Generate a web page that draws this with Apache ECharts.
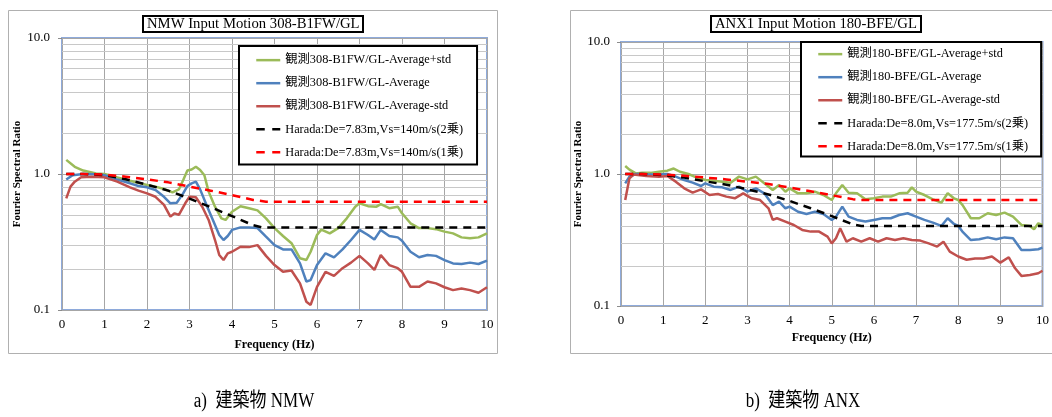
<!DOCTYPE html>
<html><head><meta charset="utf-8">
<script src="https://cdn.jsdelivr.net/npm/echarts@6/dist/echarts.min.js"></script>
<style>html,body{margin:0;padding:0;background:#fff}#c{width:1052px;height:417px}</style>
</head><body><div id="c"></div>
<script>
// ---- tick labels ----
const xTicks = [0,1,2,3,4,5,6,7,8,9,10];
const yMinorTicks = [0.2,0.3,0.4,0.5,0.6,0.7,0.8,0.9,2,3,4,5,6,7,8,9];

// ---- titles / legend names ----
const titleNMW = 'NMW Input Motion 308-B1FW/GL';
const titleANX = 'ANX1 Input Motion 180-BFE/GL';
const namesNMW = ['観測308-B1FW/GL-Average+std','観測308-B1FW/GL-Average','観測308-B1FW/GL-Average-std','Harada:De=7.83m,Vs=140m/s(2乗)','Harada:De=7.83m,Vs=140m/s(1乗)'];
const namesANX = ['観測180-BFE/GL-Average+std','観測180-BFE/GL-Average','観測180-BFE/GL-Average-std','Harada:De=8.0m,Vs=177.5m/s(2乗)','Harada:De=8.0m,Vs=177.5m/s(1乗)'];
const captions = ['a)  建築物 NMW','b)  建築物 ANX'];

// ---- NMW data [Hz, ratio] ----
const nmwPlus = [[0.1,1.27],[0.3,1.13],[0.5,1.06],[0.8,1.01],[1.0,1.0],[1.3,0.945],[1.6,0.893],[2.0,0.83],[2.2,0.807],[2.4,0.776],[2.6,0.733],[2.75,0.77],[2.85,0.9],[2.95,1.06],[3.05,1.08],[3.15,1.13],[3.25,1.07],[3.35,0.98],[3.45,0.742],[3.6,0.575],[3.75,0.472],[3.85,0.46],[4.0,0.528],[4.2,0.58],[4.4,0.56],[4.6,0.54],[4.8,0.472],[5.0,0.4],[5.2,0.35],[5.4,0.31],[5.6,0.24],[5.75,0.233],[5.85,0.268],[6.0,0.356],[6.1,0.39],[6.3,0.366],[6.5,0.4],[6.7,0.472],[6.9,0.575],[7.0,0.609],[7.2,0.58],[7.4,0.575],[7.5,0.6],[7.7,0.56],[7.9,0.575],[8.0,0.514],[8.2,0.434],[8.4,0.4],[8.6,0.4],[8.8,0.393],[9.0,0.377],[9.2,0.366],[9.4,0.342],[9.6,0.337],[9.8,0.342],[10,0.366]];
const nmwAvg = [[0.1,0.91],[0.25,0.98],[0.5,1.0],[0.8,0.995],[1.0,0.98],[1.3,0.91],[1.6,0.854],[1.8,0.816],[2.0,0.798],[2.2,0.763],[2.4,0.68],[2.55,0.609],[2.7,0.615],[2.85,0.72],[2.95,0.816],[3.05,0.854],[3.15,0.878],[3.25,0.771],[3.4,0.592],[3.55,0.459],[3.7,0.356],[3.8,0.327],[3.9,0.35],[4.0,0.388],[4.2,0.405],[4.4,0.405],[4.6,0.4],[4.8,0.346],[5.0,0.3],[5.2,0.279],[5.4,0.279],[5.6,0.22],[5.75,0.162],[5.85,0.166],[6.0,0.214],[6.2,0.261],[6.4,0.244],[6.6,0.279],[6.8,0.327],[7.0,0.388],[7.2,0.356],[7.35,0.33],[7.5,0.388],[7.7,0.35],[7.9,0.342],[8.0,0.323],[8.2,0.268],[8.4,0.244],[8.6,0.254],[8.8,0.25],[9.0,0.233],[9.2,0.22],[9.4,0.218],[9.6,0.223],[9.8,0.218],[10,0.231]];
const nmwMinus = [[0.1,0.662],[0.2,0.807],[0.3,0.878],[0.45,0.945],[0.7,0.956],[1.0,0.945],[1.3,0.878],[1.6,0.798],[1.8,0.754],[2.0,0.72],[2.2,0.68],[2.4,0.592],[2.55,0.486],[2.65,0.514],[2.75,0.5],[2.9,0.609],[3.0,0.68],[3.15,0.674],[3.3,0.575],[3.45,0.459],[3.6,0.327],[3.7,0.254],[3.8,0.233],[3.9,0.261],[4.0,0.268],[4.2,0.292],[4.4,0.29],[4.6,0.3],[4.8,0.25],[5.0,0.214],[5.2,0.191],[5.4,0.195],[5.6,0.157],[5.75,0.115],[5.85,0.109],[6.0,0.148],[6.2,0.191],[6.4,0.178],[6.6,0.203],[6.8,0.223],[7.0,0.25],[7.2,0.22],[7.35,0.197],[7.5,0.254],[7.7,0.214],[7.9,0.203],[8.0,0.191],[8.2,0.148],[8.4,0.148],[8.6,0.162],[8.8,0.157],[9.0,0.147],[9.2,0.14],[9.4,0.144],[9.6,0.14],[9.8,0.134],[10,0.147]];
const nmwHarada2 = [[0.1,1.0],[0.5,1.0],[1.0,0.98],[1.5,0.915],[2.0,0.835],[2.5,0.755],[3.0,0.66],[3.5,0.57],[4.0,0.49],[4.5,0.42],[4.7,0.405],[10,0.405]];
const nmwHarada1 = [[0.1,1.0],[0.5,1.0],[1.0,0.99],[1.5,0.956],[2.0,0.914],[2.5,0.868],[3.0,0.807],[3.5,0.754],[4.0,0.7],[4.5,0.644],[4.8,0.626],[10,0.626]];

// ---- ANX data [Hz, ratio] ----
const anxPlus = [[0.1,1.15],[0.2,1.08],[0.35,1.01],[0.5,1.02],[0.7,1.02],[0.9,1.04],[1.1,1.06],[1.25,1.1],[1.4,1.04],[1.6,1.0],[1.8,0.94],[2.0,0.9],[2.2,0.89],[2.4,0.875],[2.6,0.86],[2.8,0.955],[3.0,0.91],[3.2,0.955],[3.4,0.85],[3.6,0.757],[3.75,0.825],[3.9,0.735],[4.0,0.779],[4.2,0.714],[4.4,0.714],[4.6,0.735],[4.8,0.693],[5.0,0.635],[5.1,0.714],[5.25,0.825],[5.4,0.722],[5.6,0.714],[5.8,0.643],[6.0,0.654],[6.2,0.674],[6.4,0.674],[6.6,0.714],[6.8,0.722],[6.9,0.792],[7.0,0.735],[7.2,0.693],[7.4,0.643],[7.6,0.606],[7.75,0.714],[7.9,0.654],[8.0,0.635],[8.1,0.583],[8.3,0.462],[8.5,0.462],[8.7,0.504],[8.9,0.489],[9.1,0.51],[9.3,0.475],[9.5,0.411],[9.7,0.404],[9.8,0.381],[9.9,0.423],[10,0.411]];
const anxAvg = [[0.1,0.85],[0.2,0.955],[0.35,1.0],[0.6,0.995],[0.9,0.99],[1.1,1.0],[1.3,0.955],[1.5,0.9],[1.7,0.86],[1.9,0.811],[2.0,0.85],[2.2,0.802],[2.4,0.792],[2.6,0.757],[2.8,0.802],[3.0,0.735],[3.2,0.779],[3.4,0.714],[3.6,0.582],[3.75,0.617],[3.9,0.55],[4.0,0.566],[4.2,0.518],[4.4,0.498],[4.6,0.518],[4.8,0.498],[5.0,0.449],[5.1,0.475],[5.25,0.566],[5.4,0.475],[5.6,0.449],[5.8,0.436],[6.0,0.449],[6.2,0.462],[6.4,0.462],[6.6,0.489],[6.8,0.504],[7.0,0.475],[7.2,0.449],[7.4,0.428],[7.6,0.404],[7.75,0.462],[7.9,0.418],[8.0,0.404],[8.1,0.366],[8.3,0.316],[8.5,0.32],[8.7,0.331],[8.9,0.32],[9.1,0.331],[9.3,0.326],[9.5,0.266],[9.7,0.266],[9.9,0.269],[10,0.277]];
const anxMinus = [[0.1,0.635],[0.2,0.927],[0.3,0.99],[0.6,0.966],[0.9,0.955],[1.1,0.966],[1.3,0.875],[1.5,0.779],[1.7,0.722],[1.9,0.765],[2.1,0.693],[2.3,0.705],[2.5,0.674],[2.7,0.654],[2.9,0.714],[3.1,0.654],[3.3,0.635],[3.5,0.55],[3.6,0.449],[3.7,0.462],[3.9,0.436],[4.1,0.411],[4.3,0.377],[4.5,0.366],[4.7,0.366],[4.9,0.335],[5.0,0.298],[5.1,0.326],[5.2,0.388],[5.35,0.307],[5.5,0.326],[5.7,0.307],[5.9,0.326],[6.1,0.307],[6.3,0.326],[6.5,0.316],[6.7,0.326],[6.9,0.316],[7.1,0.313],[7.3,0.298],[7.5,0.282],[7.65,0.307],[7.8,0.258],[8.0,0.237],[8.2,0.224],[8.4,0.229],[8.6,0.229],[8.8,0.237],[9.0,0.213],[9.2,0.234],[9.35,0.193],[9.5,0.169],[9.7,0.172],[9.9,0.177],[10,0.185]];
const anxHarada2 = [[0.1,1.0],[0.5,1.0],[1.0,0.98],[1.5,0.94],[2.0,0.88],[2.5,0.83],[3.0,0.765],[3.5,0.7],[4.0,0.625],[4.5,0.55],[5.0,0.48],[5.5,0.415],[5.7,0.404],[10,0.404]];
const anxHarada1 = [[0.1,1.0],[0.5,1.0],[1.0,0.99],[1.5,0.97],[2.0,0.94],[2.5,0.91],[3.0,0.875],[3.5,0.84],[4.0,0.79],[4.5,0.74],[5.0,0.69],[5.5,0.645],[5.7,0.635],[10,0.635]];

const SERIF = "'Liberation Serif','Times New Roman','Noto Sans CJK JP',serif";
const colors = ['#9bbb59','#4f81bd','#c0504d','#000000','#ff0000'];

function dataSeries(names, datasets, idx){
  return datasets.map((d,i)=>({
    name: names[i], type:'line', xAxisIndex: idx, yAxisIndex: idx, data: d,
    symbol:'none', showSymbol:false, smooth:false, z: 3 + (i>=3 ? 1 : 0),
    lineStyle:{color: colors[i], width: 2.5, type: i>=3 ? [8,6] : 'solid'},
    itemStyle:{color: colors[i]}
  }));
}
function minorSeries(idx){
  return {type:'line', xAxisIndex: idx, yAxisIndex: idx, data: [], silent:true, z:1,
    markLine:{silent:true, symbol:'none', label:{show:false}, animation:false, z:1,
      lineStyle:{color:'#c8c8c8', width:1, type:'solid'},
      data: yMinorTicks.map(v=>({yAxis:v}))}};
}
function xAx(idx, gap){
  return {type:'value', gridIndex: idx, min:0, max:10, interval:1,
    name:'Frequency (Hz)', nameLocation:'middle', nameGap: gap,
    nameTextStyle:{fontFamily:SERIF, fontWeight:'bold', fontSize:12, color:'#000'},
    axisLine:{show:false}, axisTick:{show:false},
    axisLabel:{fontFamily:SERIF, fontSize:13, color:'#000', margin:8, formatter: v => xTicks.includes(v) ? String(v) : ''},
    splitLine:{show:true, lineStyle:{color:'#a6a6a6', width:1}}};
}
function yAx(idx, gap, margin){
  return {type:'log', logBase:10, gridIndex: idx, min:0.1, max:10,
    name:'Fourier Spectral Ratio', nameLocation:'middle', nameGap: gap, nameRotate:90,
    nameTextStyle:{fontFamily:SERIF, fontWeight:'bold', fontSize:11, color:'#000'},
    axisLine:{show:false}, axisTick:{show:true, length:4, lineStyle:{color:'#8c8c8c'}},
    axisLabel:{fontFamily:SERIF, fontSize:13, color:'#000', margin: margin, formatter: v => Number(v).toFixed(1)},
    splitLine:{show:true, lineStyle:{color:'#a6a6a6', width:1}},
    minorTick:{show:false}, minorSplitLine:{show:false}};
}
function legend(names, left, top, pad, gap){
  return {data: names.map((n,i)=>({name:n, lineStyle: i>=3 ? {type:[8.5,7.5], width:2.5} : {width:2.5}})),
    orient:'vertical', left:left, top:top, padding: pad, z:10,
    itemWidth:24, itemHeight:14, itemGap:gap, backgroundColor:'#fff',
    itemStyle:{opacity:0},
    borderColor:'#000', borderWidth:2, borderRadius:0,
    textStyle:{fontFamily:SERIF, fontSize:12.3, color:'#000'}, selectedMode:false};
}

const chart = echarts.init(document.getElementById('c'), null, {renderer:'canvas'});
chart.setOption({
  animation:false,
  backgroundColor:'#fff',
  title:[
    {text:titleNMW, left:143, top:16, padding:[1,4,1,4], borderColor:'#000', borderWidth:2,
      textStyle:{fontFamily:SERIF, fontSize:14.7, fontWeight:'normal', color:'#000'}},
    {text:titleANX, left:711, top:16, padding:[1,4,1,4], borderColor:'#000', borderWidth:2,
      textStyle:{fontFamily:SERIF, fontSize:14.7, fontWeight:'normal', color:'#000'}}
  ],
  grid:[
    {left:62, top:38, width:425, height:272, show:true, borderColor:'#8eaadb', borderWidth:2, backgroundColor:'transparent'},
    {left:621, top:42, width:426, height:264, show:true, borderColor:'#8eaadb', borderWidth:2, backgroundColor:'transparent'}
  ],
  xAxis:[xAx(0, 29), xAx(1, 25)],
  yAxis:[yAx(0, 39, 12), yAx(1, 35, 11)],
  legend:[legend(namesNMW, 239, 46, [8,14,6,16], 10.75), legend(namesANX, 801, 42, [6,13,4,16], 10.75)],
  graphic:[
    {type:'rect', shape:{x:8.5, y:10.5, width:489, height:343}, style:{fill:'none', stroke:'#b0b0b0', lineWidth:1}, z:-10},
    {type:'rect', shape:{x:570.5, y:10.5, width:500, height:343}, style:{fill:'none', stroke:'#b0b0b0', lineWidth:1}, z:-10},
    {type:'text', x:254, y:402, scaleX:0.85, originX:0, originY:0, style:{text:captions[0], font:"20px 'Liberation Serif','Noto Sans CJK JP',serif", fill:'#000', textAlign:'center', textVerticalAlign:'middle'}},
    {type:'text', x:803, y:402, scaleX:0.85, originX:0, originY:0, style:{text:captions[1], font:"20px 'Liberation Serif','Noto Sans CJK JP',serif", fill:'#000', textAlign:'center', textVerticalAlign:'middle'}}
  ],
  series:[
    minorSeries(0), minorSeries(1),
    ...dataSeries(namesNMW, [nmwPlus, nmwAvg, nmwMinus, nmwHarada2, nmwHarada1], 0),
    ...dataSeries(namesANX, [anxPlus, anxAvg, anxMinus, anxHarada2, anxHarada1], 1)
  ]
});
</script></body></html>
